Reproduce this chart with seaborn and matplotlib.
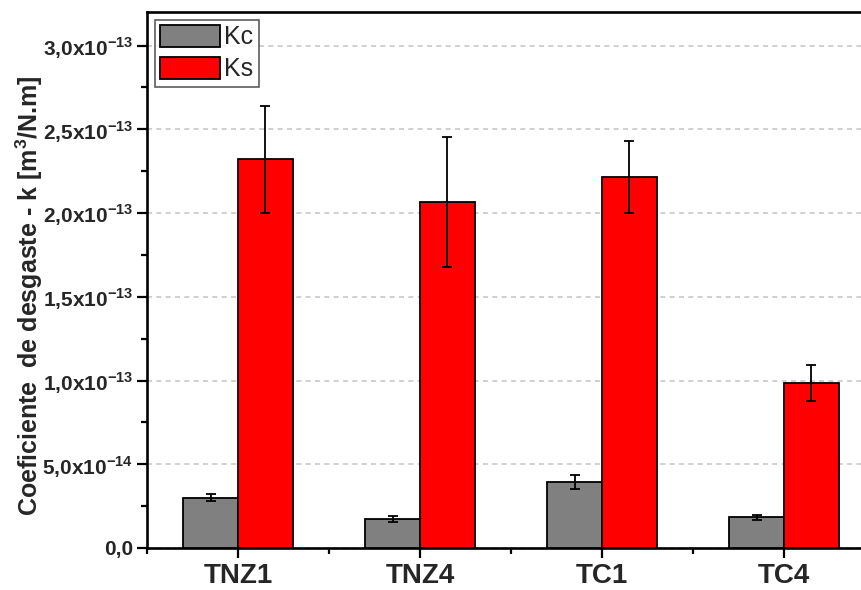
import matplotlib
matplotlib.use("Agg")
import matplotlib.pyplot as plt
from matplotlib.ticker import MultipleLocator, FixedLocator
from matplotlib.patches import Patch
import seaborn as sns
import pandas as pd

categories = ["TNZ1", "TNZ4", "TC1", "TC4"]
series = ["Kc", "Ks"]
kc = [0.300e-13, 0.175e-13, 0.395e-13, 0.183e-13]
kc_err = [0.020e-13, 0.018e-13, 0.040e-13, 0.014e-13]
ks = [2.320e-13, 2.066e-13, 2.214e-13, 0.984e-13]
ks_err = [0.320e-13, 0.387e-13, 0.215e-13, 0.107e-13]
colors = ["#808080", "#FF0000"]
ytick_values = [0.0, 0.5e-13, 1.0e-13, 1.5e-13, 2.0e-13, 2.5e-13, 3.0e-13]
ytick_labels = ["0,0",
                r"5,0x10$^{\mathbf{-14}}$",
                r"1,0x10$^{\mathbf{-13}}$",
                r"1,5x10$^{\mathbf{-13}}$",
                r"2,0x10$^{\mathbf{-13}}$",
                r"2,5x10$^{\mathbf{-13}}$",
                r"3,0x10$^{\mathbf{-13}}$"]
ylabel = r"Coeficiente  de desgaste - k [m$^{\mathbf{3}}$/N.m]"

sns.set_style("ticks")
plt.rcParams["font.family"] = ["Liberation Sans", "DejaVu Sans"]
plt.rcParams["mathtext.fontset"] = "custom"
plt.rcParams["mathtext.rm"] = "Liberation Sans"
plt.rcParams["mathtext.bf"] = "Liberation Sans:bold"

df = pd.DataFrame({
    "cat": categories * 2,
    "series": [series[0]] * 4 + [series[1]] * 4,
    "value": kc + ks,
})

W, H = 861, 590
fig = plt.figure(figsize=(W / 100, H / 100), dpi=100)
ax = fig.add_axes([147 / W, 42 / H, (875 - 147) / W, (548 - 12) / H])

sns.barplot(data=df, x="cat", y="value", hue="series", order=categories,
            hue_order=series, palette=colors, width=0.6, gap=0,
            edgecolor="black", linewidth=1.3, errorbar=None, saturation=1,
            legend=False, ax=ax, zorder=3)

for container, errs in zip(ax.containers, [kc_err, ks_err]):
    for bar, e in zip(container, errs):
        x = bar.get_x() + bar.get_width() / 2
        y = bar.get_height()
        ax.errorbar(x, y, yerr=e, fmt="none", ecolor="black",
                    elinewidth=1.3, capsize=3.8, capthick=1.3, zorder=5)

ax.set_xlim(-0.5, 3.5)
ax.set_ylim(0, 3.2e-13)
ax.set_yticks(ytick_values, ytick_labels)
ax.yaxis.set_minor_locator(MultipleLocator(0.25e-13))
ax.xaxis.set_minor_locator(FixedLocator([-0.5, 0.5, 1.5, 2.5, 3.5]))

ax.set_axisbelow(True)
ax.yaxis.grid(True, which="major", linestyle=(0, (3.0, 2.6)),
              color="#c8c8c8", linewidth=1.2)
ax.xaxis.grid(False)

for side in ["left", "bottom", "top"]:
    ax.spines[side].set_linewidth(1.9)
    ax.spines[side].set_color("black")
ax.spines["right"].set_visible(False)

ax.tick_params(axis="both", which="major", direction="out", length=7,
               width=1.6, color="black")
ax.tick_params(axis="both", which="minor", direction="out", length=4,
               width=1.6, color="black")
ax.tick_params(axis="y", which="major", labelsize=15, pad=3)
ax.tick_params(axis="x", which="major", labelsize=20, pad=4)
for lab in ax.get_yticklabels() + ax.get_xticklabels():
    lab.set_fontweight("bold")

ax.set_xlabel("")
ax.set_ylabel(ylabel, fontsize=18, fontweight="bold")
ax.yaxis.set_label_coords(-0.14, 0.47)

handles = [Patch(facecolor=c, edgecolor="black", linewidth=1.3) for c in colors]
leg = ax.legend(handles, series, loc="upper left", fontsize=18,
                frameon=True, fancybox=False, edgecolor="#333333",
                handlelength=2.4, handleheight=1.0, labelspacing=0.3,
                handletextpad=0.2, borderpad=0.2, borderaxespad=0.3)
leg.get_frame().set_linewidth(1.2)

fig.savefig("out.png", dpi=100)
